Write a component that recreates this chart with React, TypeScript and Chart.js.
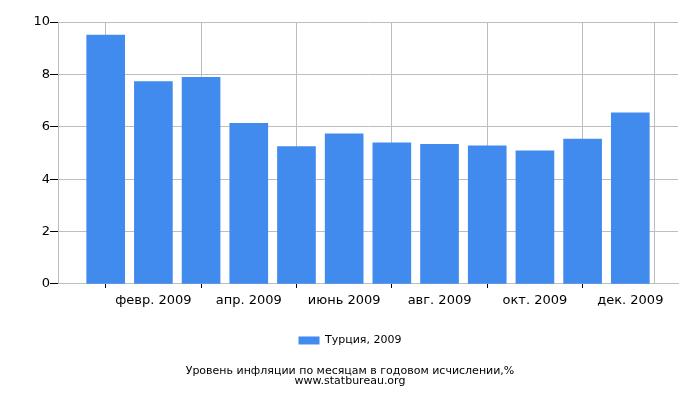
import { useEffect, useRef } from "react";
import Chart from "chart.js/auto";

// Turkey, monthly inflation (year-on-year), 2009
const monthNumbers = [1, 2, 3, 4, 5, 6, 7, 8, 9, 10, 11, 12];
const inflation = [9.5, 7.73, 7.89, 6.13, 5.24, 5.73, 5.39, 5.33, 5.27, 5.08, 5.53, 6.53];
const tickPositions = [0, 2, 4, 6, 8, 10, 12, 13];
const tickLabels = ["", "февр. 2009", "апр. 2009", "июнь 2009", "авг. 2009", "окт. 2009", "дек. 2009", ""];
const seriesName = "Турция, 2009";
const titleLines = ["Уровень инфляции по месяцам в годовом исчислении,%", "www.statbureau.org"];

const FONT = "'DejaVu Sans', Verdana, sans-serif";
const GRID = "#bdbdbd";

export default function App() {
  const chartRef = useRef<HTMLCanvasElement>(null);
  const chartInstanceRef = useRef<Chart | null>(null);

  useEffect(() => {
    document.body.style.margin = "0";
    if (!chartRef.current) return;
    const ctx = chartRef.current.getContext("2d");
    if (!ctx) return;

    const chart = new Chart(ctx, {
      type: "bar",
      data: {
        datasets: [
          {
            label: seriesName,
            data: monthNumbers.map((m, i) => ({ x: m, y: inflation[i] })),
            backgroundColor: "#428bee",
            borderWidth: 0,
            barThickness: 38,
          },
        ],
      },
      options: {
        animation: false,
        responsive: true,
        maintainAspectRatio: false,
        layout: { padding: { top: 22, right: 0, left: 0, bottom: 0 } },
        font: { family: FONT },
        scales: {
          x: {
            type: "linear",
            min: 0,
            max: 13,
            offset: false,
            afterBuildTicks: (scale) => {
              scale.ticks = tickPositions.map((v) => ({ value: v }));
            },
            afterFit: (scale) => {
              scale.height = 41;
            },
            grid: {
              color: GRID,
              tickColor: (c) => (c.tick && c.tick.value === 13 ? "transparent" : "#000"),
              tickLength: 4,
            },
            border: { color: GRID },
            ticks: {
              autoSkip: false,
              maxRotation: 0,
              padding: 5,
              color: "#000",
              font: { family: FONT, size: 13 },
              callback: (v) => {
                const idx = tickPositions.indexOf(Number(v));
                return idx >= 0 ? tickLabels[idx] : "";
              },
            },
          },
          y: {
            min: 0,
            max: 10,
            afterFit: (scale) => {
              scale.width = 58;
            },
            grid: { color: GRID, tickColor: "#000", tickLength: 8 },
            border: { color: GRID },
            ticks: {
              stepSize: 2,
              padding: 0,
              color: "#000",
              font: { family: FONT, size: 13 },
            },
          },
          // empty right-hand axis, only keeps the 22px right margin so legend/title stay centred on the canvas
          yRight: {
            position: "right",
            min: 0,
            max: 10,
            afterFit: (scale) => {
              scale.width = 22;
            },
            grid: { display: false },
            border: { display: false },
            ticks: { display: false },
          },
        },
        plugins: {
          legend: {
            position: "bottom",
            labels: {
              boxWidth: 21,
              boxHeight: 8,
              padding: 10,
              color: "#000",
              font: { family: FONT, size: 11 },
            },
          },
          title: {
            display: true,
            position: "bottom",
            text: titleLines,
            color: "#000",
            font: { family: FONT, size: 11, weight: "normal", lineHeight: 0.91 },
            padding: { top: 10, bottom: 14 },
          },
          tooltip: { enabled: false },
        },
      },
    });

    chartInstanceRef.current = chart;

    return () => {
      if (chartInstanceRef.current) {
        chartInstanceRef.current.destroy();
        chartInstanceRef.current = null;
      }
    };
  }, []);

  return (
    <div style={{ width: 700, height: 400, position: "relative" }}>
      <canvas ref={chartRef} />
    </div>
  );
}
